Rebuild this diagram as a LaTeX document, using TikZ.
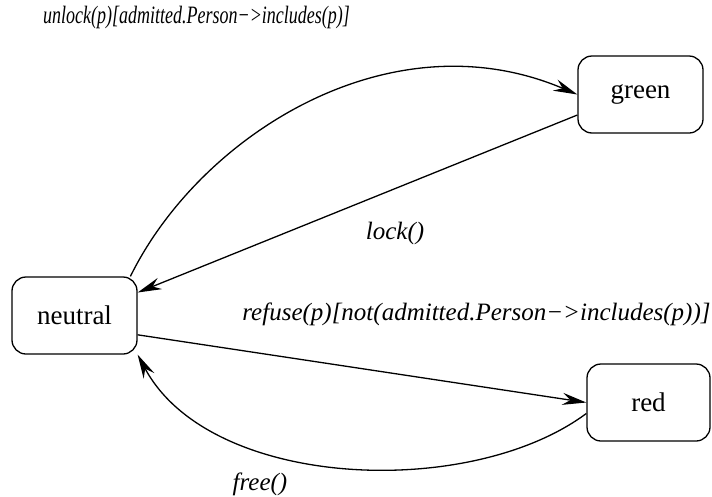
\documentclass[tikz,border=0pt]{standalone}
\usepackage{fontspec}
\setmainfont{Liberation Serif}
\usepackage{graphicx}
\usetikzlibrary{arrows.meta}
\tikzset{
  state/.style={draw, line width=1.3pt, rounded corners=14pt, minimum width=125pt, minimum height=77pt, inner sep=0pt, font=\fontsize{27}{31}\selectfont},
  lbl/.style={inner sep=0pt, font=\fontsize{25}{29}\selectfont\itshape},
  trans/.style={line width=1.3pt, -{Stealth[length=24pt, width=12pt, inset=8pt]}}
}
\begin{document}
\begin{tikzpicture}[x=1pt,y=-1pt]
\useasboundingbox (0,0) rectangle (712,496);
\node[state] (neutral) at (74.5,315.5) {neutral};
\node[state] (green) at (640.5,94.5) {green};
\node[state, minimum width=123pt] (red) at (648.5,402.5) {red};

\draw[trans] (neutral.35.7) .. controls (200,135) and (390,15) .. (green.west);
\draw[trans] (green.198) -- (neutral.20);
\draw[trans] (neutral.-17) -- (red.west);
\draw[trans] (red.190) .. controls (470,500) and (210,490) .. (neutral.south east);

\node[lbl] (l1) at (196.5,17) {\scalebox{0.72}[1]{unlock(p)[admitted.Person−>includes(p)]}};
\node[lbl] (l2) at (395,233) {lock()};
\node[lbl] (l3) at (476.5,314) {refuse(p)[not(admitted.Person−>includes(p))]};
\node[lbl] (l4) at (260,484) {free()};
\end{tikzpicture}
\end{document}
